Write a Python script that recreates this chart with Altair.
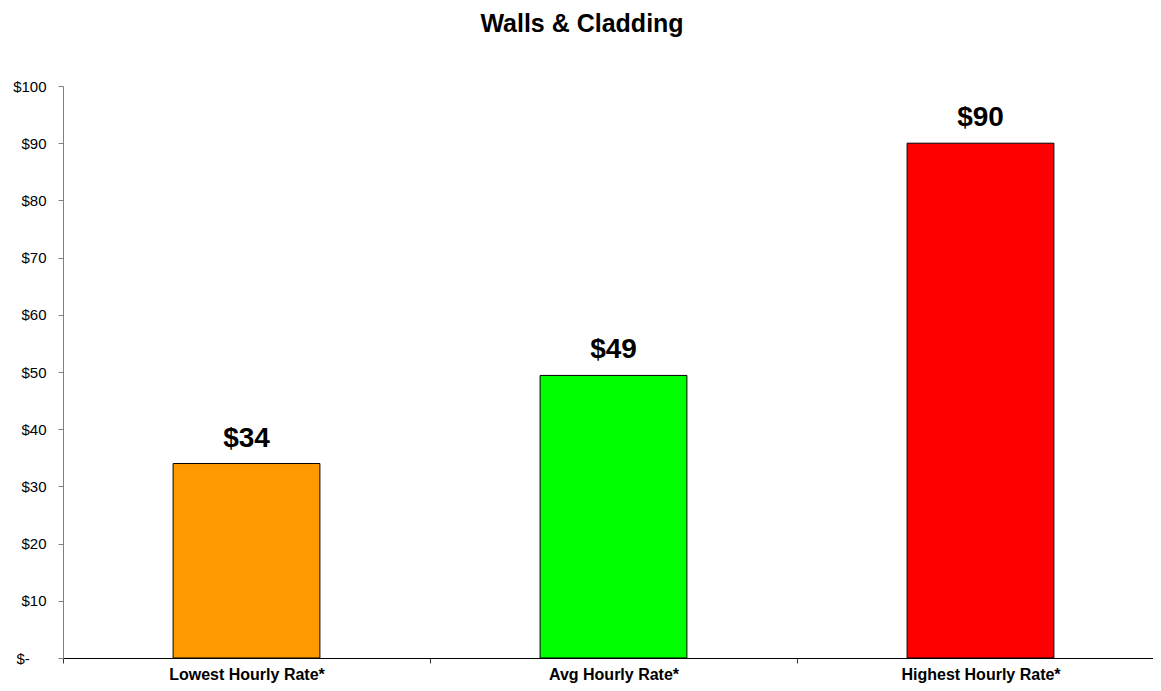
import altair as alt
import pandas as pd

categories = ["Lowest Hourly Rate*", "Avg Hourly Rate*", "Highest Hourly Rate*"]
rates = [34, 49.4, 90]
colors = ["#FF9900", "#00FF00", "#FF0000"]
y_ticks = [0, 10, 20, 30, 40, 50, 60, 70, 80, 90, 100]

df = pd.DataFrame({"category": categories, "rate": rates})

FONT = "Liberation Sans"

x_enc = alt.X(
    "category:N",
    sort=categories,
    scale=alt.Scale(paddingInner=0, paddingOuter=0, range=[0, 1101]),
    axis=alt.Axis(
        title=None,
        labelAngle=0,
        labelFont=FONT,
        labelFontSize=16,
        labelFontWeight="bold",
        labelColor="black",
        labelPadding=3,
        domainColor="black",
        tickColor="#333333",
        tickSize=5,
        tickBand="extent",
        labelLimit=300,
    ),
)
y_enc = alt.Y(
    "rate:Q",
    scale=alt.Scale(domain=[0, 100], nice=False),
    axis=alt.Axis(
        title=None,
        values=y_ticks,
        grid=False,
        labelExpr="datum.value == 0 ? '$-\u00a0\u00a0\u00a0\u00a0\u200b' : '$' + datum.value",
        labelFont=FONT,
        labelFontSize=15,
        labelColor="black",
        labelPadding=12,
        domainColor="#808080",
        tickColor="#808080",
        tickSize=5,
    ),
)

bars = alt.Chart(df).mark_bar(
    width=alt.RelativeBandSize(0.4), stroke="black", strokeWidth=1
).encode(
    x=x_enc,
    y=y_enc,
    color=alt.Color(
        "category:N",
        scale=alt.Scale(domain=categories, range=colors),
        legend=None,
    ),
)

labels = alt.Chart(df).mark_text(
    dy=-17, baseline="alphabetic", fontSize=28, fontWeight="bold", font=FONT, color="black"
).encode(
    x=alt.X("category:N", sort=categories),
    y="rate:Q",
    text=alt.Text("rate:Q", format="$,.0f"),
)

chart = alt.layer(bars, labels).properties(
    width=1090,
    height=572,
    autosize=alt.AutoSizeParams(type="none"),
    padding={"left": 55, "top": 78, "right": 0, "bottom": 25},
    title=alt.TitleParams(
        "Walls & Cladding",
        font=FONT,
        fontSize=25,
        fontWeight="bold",
        color="black",
        anchor="middle",
        offset=42,
        dx=-26,
    ),
).configure(background="white").configure_view(stroke=None, strokeWidth=0)

chart.save("out.html", embed_options={"renderer": "svg", "actions": False})
